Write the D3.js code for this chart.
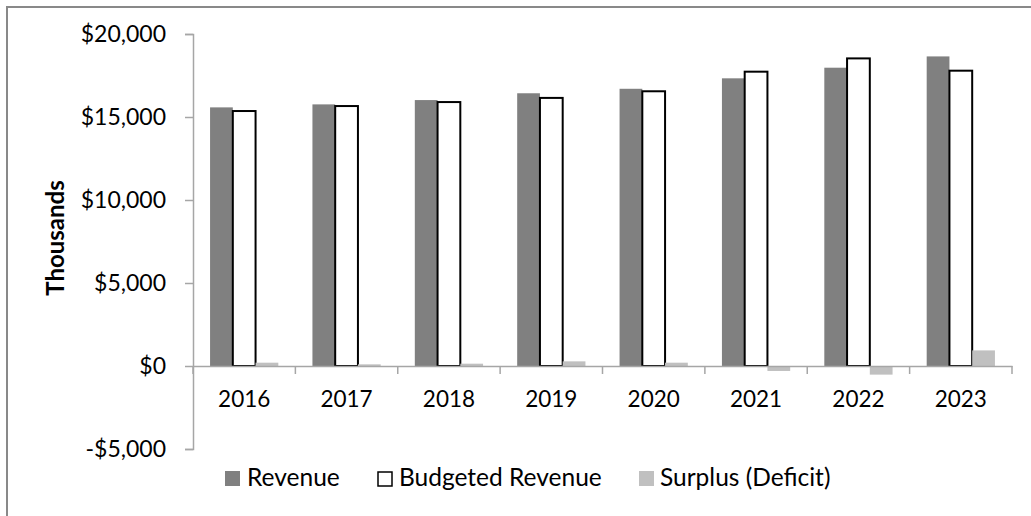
<!DOCTYPE html>
<html>
<head>
<meta charset="utf-8">
<script src="https://cdn.jsdelivr.net/npm/d3@7"></script>
<style>
  body { margin: 0; background: #fff; }
  text { font-family: Lato, "Open Sans", sans-serif; }
</style>
</head>
<body>
<div id="chart"></div>
<script>
// values in thousands of dollars
const years = ["2016", "2017", "2018", "2019", "2020", "2021", "2022", "2023"];
const revenue = [15580, 15760, 16020, 16430, 16700, 17330, 17970, 18650];
const budgeted = [15360, 15660, 15900, 16150, 16550, 17730, 18530, 17790];
const surplus = [200, 100, 140, 280, 200, -300, -520, 940];
const yTicks = [-5000, 0, 5000, 10000, 15000, 20000];

const seriesNames = ["Revenue", "Budgeted Revenue", "Surplus (Deficit)"];
const seriesValues = [revenue, budgeted, surplus];
const seriesFill = ["#808080", "#ffffff", "#c0c0c0"];
const seriesStroke = ["none", "#000000", "none"];

const width = 1031;
const height = 516;

const svg = d3.select("#chart")
    .append("svg")
    .attr("width", width)
    .attr("height", height);

// outer chart border (runs off the right and bottom edge)
svg.append("rect")
    .attr("x", 7)
    .attr("y", 7)
    .attr("width", 1040)
    .attr("height", 530)
    .attr("fill", "none")
    .attr("stroke", "#898989")
    .attr("stroke-width", 2);

const x = d3.scaleBand()
    .domain(years)
    .range([193, 1012]);

// gap width 150% of a bar
const barW = x.bandwidth() / 4.5;
const xs = d3.scaleBand()
    .domain(d3.range(3))
    .range([barW * 0.75, x.bandwidth() - barW * 0.75]);

const y = d3.scaleLinear()
    .domain([-5000, 20000])
    .range([449, 34]);

const fmt = v => (v < 0 ? "-$" : "$") + d3.format(",")(Math.abs(v));

const rows = [];
seriesValues.forEach((vals, s) => {
    vals.forEach((v, i) => rows.push({ s: s, year: years[i], v: v }));
});

svg.selectAll(".bar")
    .data(rows)
    .enter()
    .append("rect")
    .attr("class", "bar")
    .attr("x", d => x(d.year) + xs(d.s))
    .attr("y", d => y(Math.max(0, d.v)))
    .attr("width", xs.bandwidth())
    .attr("height", d => Math.abs(y(d.v) - y(0)))
    .attr("fill", d => seriesFill[d.s])
    .attr("stroke", d => seriesStroke[d.s])
    .attr("stroke-width", 2);

// y axis
const yAxis = svg.append("g")
    .attr("transform", "translate(193,0)")
    .call(d3.axisLeft(y).tickValues(yTicks).tickFormat(fmt).tickSizeOuter(0).tickSize(8).tickPadding(19));
yAxis.select(".domain").attr("stroke", "#a6a6a6").attr("stroke-width", 1.5);
yAxis.selectAll(".tick line").attr("stroke", "#a6a6a6").attr("stroke-width", 1.5);
yAxis.selectAll(".tick text")
    .attr("font-size", 23)
    .attr("fill", "#000")
    .style("font-family", "Lato, sans-serif");

// x axis at zero
const xAxis = svg.append("g")
    .attr("transform", `translate(0,${y(0)})`)
    .call(d3.axisBottom(x).tickSize(0).tickSizeOuter(0).tickPadding(25));
xAxis.select(".domain").attr("stroke", "#a6a6a6").attr("stroke-width", 1.5);
xAxis.selectAll(".tick text")
    .attr("font-size", 22.5)
    .attr("fill", "#000")
    .style("font-family", "Lato, sans-serif");

// category boundary ticks
svg.selectAll(".xb")
    .data(years.concat(["end"]))
    .enter()
    .append("line")
    .attr("x1", (d, i) => i < years.length ? x(d) : x.range()[1])
    .attr("x2", (d, i) => i < years.length ? x(d) : x.range()[1])
    .attr("y1", y(0))
    .attr("y2", y(0) + 8)
    .attr("stroke", "#a6a6a6")
    .attr("stroke-width", 1.5);

// axis title
svg.append("text")
    .attr("transform", "translate(64,238) rotate(-90)")
    .attr("text-anchor", "middle")
    .attr("font-size", 24)
    .attr("font-weight", "bold")
    .text("Thousands");

// legend
const legendX = [225, 377, 639];
const legend = svg.selectAll(".legend")
    .data(seriesNames)
    .enter()
    .append("g")
    .attr("transform", (d, i) => `translate(${legendX[i]},471)`);

legend.append("rect")
    .attr("x", (d, i) => seriesStroke[i] === "none" ? 0 : 1)
    .attr("y", (d, i) => seriesStroke[i] === "none" ? 0 : 1)
    .attr("width", (d, i) => seriesStroke[i] === "none" ? 15 : 14)
    .attr("height", (d, i) => seriesStroke[i] === "none" ? 15 : 14)
    .attr("fill", (d, i) => seriesFill[i])
    .attr("stroke", (d, i) => seriesStroke[i])
    .attr("stroke-width", 1.5);

legend.append("text")
    .attr("x", (d, i) => i === 2 ? 21 : 22)
    .attr("y", 15)
    .attr("font-size", 24.5)
    .text(d => d);
</script>
</body>
</html>
